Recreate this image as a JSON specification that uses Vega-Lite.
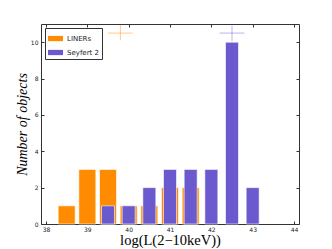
{
  "$schema": "https://vega.github.io/schema/vega-lite/v6.json",
  "width": 258,
  "height": 200,
  "autosize": "none",
  "padding": {"left": 41, "top": 24, "right": 33, "bottom": 25},
  "background": "white",
  "config": {
    "view": {"stroke": "#333", "strokeWidth": 1},
    "axis": {
      "domain": false, "grid": false, "tickColor": "#333", "tickSize": -3,
      "labelFont": "DejaVu Sans", "labelFontSize": 6, "labelColor": "#222",
      "labelPadding": 5, "titleColor": "black", "titleFontWeight": "normal"
    }
  },
  "datasets": {
    "hist": [
      {"type": "LINERs", "logL": 38.5, "n": 1},
      {"type": "LINERs", "logL": 39.0, "n": 3},
      {"type": "LINERs", "logL": 39.5, "n": 3},
      {"type": "LINERs", "logL": 40.0, "n": 1},
      {"type": "LINERs", "logL": 40.5, "n": 1},
      {"type": "LINERs", "logL": 41.0, "n": 2},
      {"type": "LINERs", "logL": 41.5, "n": 2},
      {"type": "Seyfert 2", "logL": 39.5, "n": 1},
      {"type": "Seyfert 2", "logL": 40.0, "n": 1},
      {"type": "Seyfert 2", "logL": 40.5, "n": 2},
      {"type": "Seyfert 2", "logL": 41.0, "n": 3},
      {"type": "Seyfert 2", "logL": 41.5, "n": 3},
      {"type": "Seyfert 2", "logL": 42.0, "n": 3},
      {"type": "Seyfert 2", "logL": 42.5, "n": 10},
      {"type": "Seyfert 2", "logL": 43.0, "n": 2}
    ],
    "mean": [
      {"type": "LINERs", "x": 39.8, "xlo": 39.5, "xhi": 40.1, "y": 10.5, "ylo": 10.1, "yhi": 10.95},
      {"type": "Seyfert 2", "x": 42.5, "xlo": 42.2, "xhi": 42.8, "y": 10.5, "ylo": 10.05, "yhi": 10.9}
    ]
  },
  "resolve": {"axis": {"x": "independent", "y": "independent"}},
  "layer": [
    {
      "data": {"name": "hist"},
      "transform": [{"filter": "datum.type === 'LINERs'"}],
      "mark": {"type": "bar", "size": 17, "stroke": "white", "strokeOpacity": 0.6, "strokeWidth": 1},
      "encoding": {
        "x": {"field": "logL", "type": "quantitative", "scale": {"domain": [38, 44], "nice": false, "zero": false},
              "axis": {"values": [38, 39, 40, 41, 42, 43, 44], "title": "log(L(2−10keV))", "titleFont": "Liberation Serif", "titleFontSize": 14.5, "titlePadding": 1}},
        "y": {"field": "n", "type": "quantitative", "scale": {"domain": [0, 11], "nice": false},
              "axis": {"values": [0, 2, 4, 6, 8, 10], "labelPadding": 6, "title": "Number of objects", "titleFont": "Liberation Serif", "titleFontStyle": "italic", "titleFontSize": 14, "titlePadding": 1}},
        "color": {"field": "type", "type": "nominal",
                  "scale": {"domain": ["LINERs", "Seyfert 2"], "range": ["#FF8C00", "#6A5ACD"]},
                  "legend": {"title": null, "orient": "top-left", "offset": 4, "strokeColor": "#333", "padding": 3,
                             "symbolType": "M-1,-0.35H1V0.35H-1Z", "symbolSize": 225, "symbolStrokeWidth": 0, "symbolOpacity": 1,
                             "labelFont": "DejaVu Sans", "labelFontSize": 7, "labelColor": "#222", "rowPadding": 3, "fillColor": "white"}}
      }
    },
    {
      "data": {"name": "hist"},
      "transform": [{"filter": "datum.type === 'Seyfert 2'"}],
      "mark": {"type": "bar", "size": 13, "stroke": "white", "strokeOpacity": 0.6, "strokeWidth": 1},
      "encoding": {
        "x": {"field": "logL", "type": "quantitative", "axis": {"orient": "top", "labels": false, "title": null, "values": [38, 39, 40, 41, 42, 43, 44]}},
        "y": {"field": "n", "type": "quantitative", "axis": {"orient": "right", "labels": false, "title": null, "values": [0, 2, 4, 6, 8, 10]}},
        "color": {"field": "type", "type": "nominal"}
      }
    },
    {
      "data": {"name": "mean"},
      "mark": {"type": "rule", "strokeWidth": 1, "opacity": 0.45},
      "encoding": {
        "x": {"field": "xlo", "type": "quantitative", "axis": null},
        "x2": {"field": "xhi"},
        "y": {"field": "y", "type": "quantitative", "axis": null},
        "color": {"field": "type", "type": "nominal"}
      }
    },
    {
      "data": {"name": "mean"},
      "mark": {"type": "rule", "strokeWidth": 1, "opacity": 0.45},
      "encoding": {
        "x": {"field": "x", "type": "quantitative", "axis": null},
        "y": {"field": "ylo", "type": "quantitative", "axis": null},
        "y2": {"field": "yhi"},
        "color": {"field": "type", "type": "nominal"}
      }
    }
  ]
}
